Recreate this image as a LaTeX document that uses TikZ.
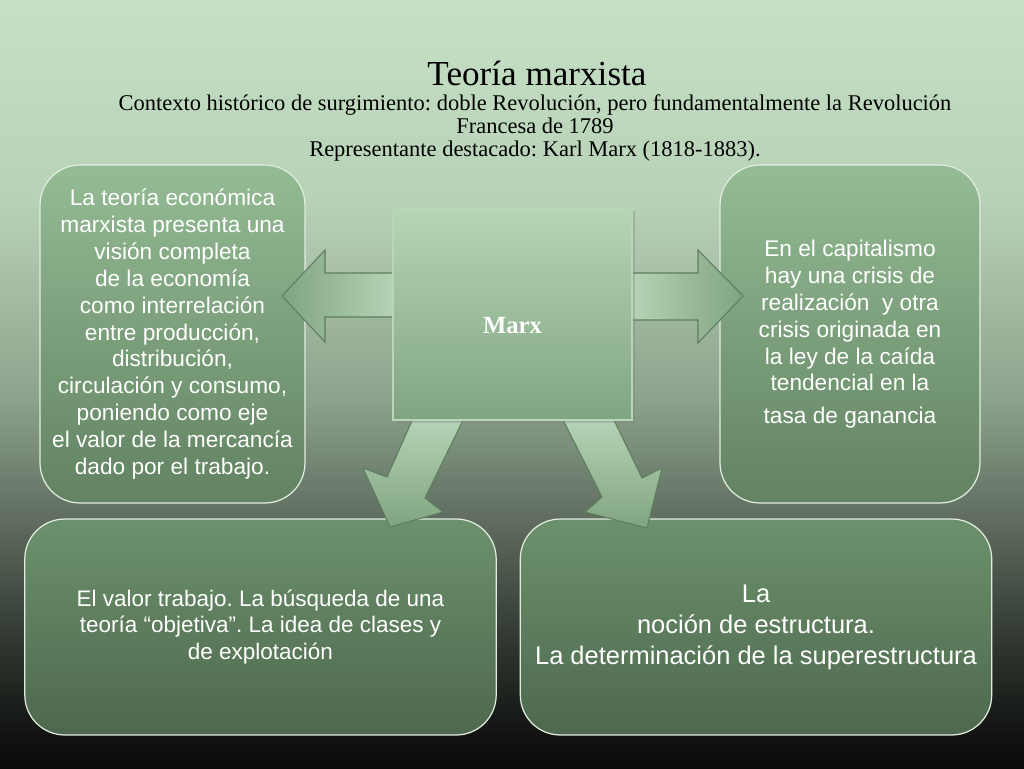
\documentclass[tikz,border=0pt]{standalone}
\usepackage{fontspec}
\setmainfont{Liberation Serif}
\newfontfamily\boxfont{Liberation Sans}
\usetikzlibrary{shadows}
\frenchspacing

\definecolor{bgA}{RGB}{198,224,198}
\definecolor{bgB}{RGB}{184,210,184}
\definecolor{bgC}{RGB}{140,162,140}
\definecolor{bgD}{RGB}{95,108,95}
\definecolor{bgE}{RGB}{45,52,45}
\definecolor{bgF}{RGB}{17,19,17}
\definecolor{bgG}{RGB}{10,10,10}
\definecolor{sideTop}{RGB}{148,188,148}
\definecolor{sideBot}{RGB}{98,130,98}
\definecolor{lowTop}{RGB}{108,145,108}
\definecolor{lowBot}{RGB}{78,104,78}
\definecolor{boxline}{RGB}{225,236,225}
\definecolor{marxTop}{RGB}{182,214,182}
\definecolor{marxBot}{RGB}{128,164,128}
\definecolor{arrowLight}{RGB}{184,214,184}
\definecolor{arrowDark}{RGB}{128,164,128}
\definecolor{arrowEdge}{RGB}{92,126,92}

\pgfdeclareverticalshading{bgshade}{100bp}{color(0bp)=(bgG); color(25bp)=(bgG);
  color(27.1bp)=(bgF); color(32.7bp)=(bgE); color(41.1bp)=(bgD);
  color(49bp)=(bgC); color(62bp)=(bgB); color(75bp)=(bgA); color(100bp)=(bgA)}

\begin{document}
\begin{tikzpicture}[x=0.02cm, y=-0.02cm,
  sidebox/.style={rounded corners=0.8cm, draw=boxline, line width=0.7pt,
    top color=sideTop, bottom color=sideBot, text=white, align=center,
    inner sep=0pt, minimum height=6.76cm,
    font=\boxfont\fontsize{12.9}{15.3}\selectfont},
  lowbox/.style={rounded corners=0.8cm, draw=boxline, line width=0.7pt,
    top color=lowTop, bottom color=lowBot, text=white, align=center,
    inner sep=0pt, minimum width=9.43cm, minimum height=4.32cm},
  blockarrow/.style={draw=arrowEdge, line width=0.6pt, line join=miter}]

% background
\shade[shading=bgshade] (0,0) rectangle (1024,768);

% title
\node (title) at (537,73) {\fontsize{20}{24}\selectfont Teoría marxista};
\node[align=center, font=\fontsize{12.8}{13}\selectfont] (context) at (535,128)
  {Contexto histórico de surgimiento: doble Revolución, pero fundamentalmente la Revolución\\
   Francesa de 1789\\
   Representante destacado: Karl Marx (1818-1883).};

% side boxes
\node[sidebox, minimum width=5.3cm] (economia) at (172.5,334)
  {La teoría económica\\ marxista presenta una\\ visión completa\\ de la economía\\
   como interrelación\\ entre producción,\\ distribución,\\ circulación y consumo,\\
   poniendo como eje\\ el valor de la mercancía\\ dado por el trabajo.};
\node[sidebox, minimum width=5.2cm] (crisis) at (850,334)
  {En el capitalismo\\ hay una crisis de\\ realización~ y otra\\ crisis originada en\\
   la ley de la caída\\ tendencial en la\\[3pt] tasa de ganancia};

% bottom boxes
\node[lowbox, font=\boxfont\fontsize{12.8}{15.3}\selectfont] (valor) at (260.5,627)
  {El valor trabajo. La búsqueda de una\\ teoría “objetiva”. La idea de clases y\\ de explotación};
\node[lowbox, font=\boxfont\fontsize{14.5}{17.6}\selectfont] (estructura) at (756,627)
  {La\\ noción de estructura.\\ La determinación de la superestructura};

% block arrows
\shade[blockarrow, left color=arrowDark, right color=arrowLight]
  (400,273) -- (325,273) -- (325,250) -- (282,296) -- (325,342) -- (325,317) -- (400,317) -- cycle;
\shade[blockarrow, left color=arrowLight, right color=arrowDark]
  (625,273) -- (698,273) -- (698,250) -- (743,296) -- (698,343) -- (698,320) -- (625,320) -- cycle;
\shade[blockarrow, top color=arrowLight, bottom color=arrowDark]
  (415,414) -- (466,414) -- (425,498) -- (443,512) -- (390,527) -- (363,468) -- (387,477) -- cycle;
\shade[blockarrow, top color=arrowLight, bottom color=arrowDark]
  (560,414) -- (611,414) -- (642,478) -- (662,468) -- (647,528) -- (585,512) -- (602,497) -- cycle;

% centre
\node[draw=arrowLight, line width=0.8pt, top color=marxTop, bottom color=marxBot,
  minimum width=4.78cm, minimum height=4.24cm, inner sep=0pt,
  drop shadow={opacity=0.35, shadow xshift=1.5pt, shadow yshift=-1.5pt},
  text=white, font=\bfseries\fontsize{14}{16}\selectfont] (marx) at (512.5,314)
  {\raisebox{-11pt}[0pt][0pt]{Marx}};

\end{tikzpicture}
\end{document}
